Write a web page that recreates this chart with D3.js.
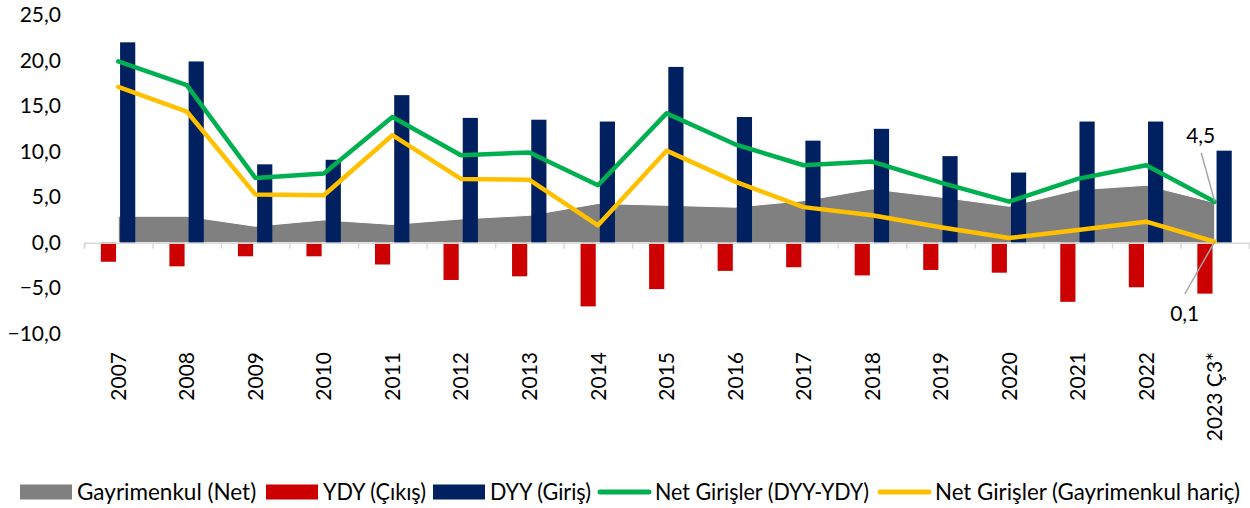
<!DOCTYPE html>
<html>
<head>
<meta charset="utf-8">
<script src="https://cdn.jsdelivr.net/npm/d3@7"></script>
<style>
  body { margin: 0; background: #fff; }
  svg { display: block; font-family: Lato, "Open Sans", sans-serif; }
</style>
</head>
<body>
<svg width="1250" height="508"></svg>
<script>
  const categories = ['2007', '2008', '2009', '2010', '2011', '2012', '2013', '2014', '2015',
    '2016', '2017', '2018', '2019', '2020', '2021', '2022', '2023 Ç3*'];
  const dyyGiris = [22.0, 19.9, 8.6, 9.1, 16.2, 13.7, 13.5, 13.3, 19.3, 13.8, 11.2, 12.5, 9.5, 7.7, 13.3, 13.3, 10.1];
  const ydyCikis = [-2.1, -2.6, -1.5, -1.5, -2.4, -4.1, -3.7, -7.0, -5.1, -3.1, -2.7, -3.6, -3.0, -3.3, -6.5, -4.9, -5.6];
  const gayrimenkulNet = [2.9, 2.9, 1.8, 2.5, 2.0, 2.6, 3.0, 4.3, 4.1, 3.9, 4.6, 5.9, 5.0, 4.0, 5.8, 6.3, 4.4];
  const netGirisler = [19.9, 17.3, 7.1, 7.6, 13.8, 9.6, 9.9, 6.3, 14.2, 10.8, 8.5, 8.9, 6.6, 4.5, 7.0, 8.5, 4.5];
  const netHaric = [17.1, 14.4, 5.3, 5.2, 11.8, 7.0, 6.9, 1.9, 10.1, 6.7, 3.9, 3.0, 1.7, 0.5, 1.4, 2.3, 0.1];
  const yTicks = [-10, -5, 0, 5, 10, 15, 20, 25];

(function (d3) {
  'use strict';

  const svg = d3.select('svg');
  const margin = { left: 84, right: 1249, top: 15, bottom: 333.7 };

  const locale = d3.formatLocale({ decimal: ',', thousands: '.', grouping: [3], currency: ['', ''] });
  const fmt = locale.format('.1f');

  const x = d3.scaleBand().domain(categories).range([margin.left, margin.right]).padding(0);
  const xEdge = d3.scaleLinear().domain([0, categories.length]).range([margin.left, margin.right]);
  const y = d3.scaleLinear().domain([-10, 25]).range([margin.bottom, margin.top]);
  const inner = d3.scaleBand().domain(['ydy', 'dyy']).range([-17.4, 17]).paddingInner(0.21);
  const cx = c => x(c) + x.bandwidth() / 2;

  // gri alan
  const area = d3.area()
    .x((d, i) => cx(categories[i]))
    .y0(y(0))
    .y1(d => y(d));
  svg.append('path')
    .datum(gayrimenkulNet)
    .attr('d', area)
    .attr('fill', '#808080')
    .attr('stroke', '#fff')
    .attr('stroke-width', 1);

  // bars
  const barG = svg.append('g');
  barG.selectAll('.ydy').data(ydyCikis).enter().append('rect')
    .attr('class', 'ydy')
    .attr('x', (d, i) => cx(categories[i]) + inner('ydy'))
    .attr('width', inner.bandwidth())
    .attr('y', d => y(Math.max(0, d)))
    .attr('height', d => Math.abs(y(d) - y(0)))
    .attr('fill', '#cc0000');
  barG.selectAll('.dyy').data(dyyGiris).enter().append('rect')
    .attr('class', 'dyy')
    .attr('x', (d, i) => cx(categories[i]) + inner('dyy'))
    .attr('width', inner.bandwidth())
    .attr('y', d => y(Math.max(0, d)))
    .attr('height', d => Math.abs(y(d) - y(0)))
    .attr('fill', '#002060');

  // x axis (ticks at category edges)
  const xAxisG = svg.append('g')
    .attr('transform', `translate(0,${y(0)})`)
    .call(d3.axisBottom(xEdge).tickValues(d3.range(categories.length + 1)).tickSize(6).tickFormat(''));
  xAxisG.select('.domain').attr('stroke', '#d9d9d9').attr('stroke-width', 1.5);
  xAxisG.selectAll('.tick line').attr('stroke', '#d9d9d9').attr('stroke-width', 1.5);

  // category labels
  svg.append('g').selectAll('text').data(categories).enter().append('text')
    .attr('transform', d => `translate(${cx(d)},352) rotate(-90)`)
    .attr('text-anchor', 'end')
    .attr('dy', '0.36em')
    .attr('font-size', 21)
    .attr('fill', '#000')
    .text(d => d);

  // y axis
  const yAxisG = svg.append('g')
    .attr('transform', `translate(${margin.left},0)`)
    .call(d3.axisLeft(y).tickValues(yTicks).tickSize(0).tickPadding(23).tickFormat(fmt));
  yAxisG.select('.domain').remove();
  yAxisG.selectAll('text').attr('font-size', 21).attr('font-family', 'Lato, sans-serif').attr('fill', '#000');

  // lines
  const line = d3.line().x((d, i) => cx(categories[i])).y(d => y(d));
  svg.append('path').datum(netGirisler).attr('d', line)
    .attr('fill', 'none').attr('stroke', '#00b050').attr('stroke-width', 4.5)
    .attr('stroke-linejoin', 'round').attr('stroke-linecap', 'round');
  svg.append('path').datum(netHaric).attr('d', line)
    .attr('fill', 'none').attr('stroke', '#ffc000').attr('stroke-width', 4.5)
    .attr('stroke-linejoin', 'round').attr('stroke-linecap', 'round');

  // data labels for last point
  const last = categories[categories.length - 1];
  const lx = cx(last);
  const labels = [
    { v: netGirisler[netGirisler.length - 1], tx: lx - 14, ty: 142.7, lineFrom: [lx - 13.5, 152.7] },
    { v: netHaric[netHaric.length - 1], tx: lx - 30, ty: 321, lineFrom: [lx - 30, 294] }
  ];
  labels.forEach(l => {
    svg.append('line')
      .attr('x1', l.lineFrom[0]).attr('y1', l.lineFrom[1])
      .attr('x2', lx).attr('y2', y(l.v))
      .attr('stroke', '#a6a6a6').attr('stroke-width', 1.5);
    svg.append('text')
      .attr('x', l.tx).attr('y', l.ty)
      .attr('text-anchor', 'middle')
      .attr('font-size', 21)
      .text(fmt(l.v));
  });

  // legend (slot positions and text widths)
  const legendItems = [
    { name: 'Gayrimenkul (Net)', color: '#808080', type: 'rect', at: 20, w: 180 },
    { name: 'YDY (Çıkış)', color: '#cc0000', type: 'rect', at: 266, w: 103 },
    { name: 'DYY (Giriş)', color: '#002060', type: 'rect', at: 433, w: 101 },
    { name: 'Net Girişler (DYY-YDY)', color: '#00b050', type: 'line', at: 598, w: 214 },
    { name: 'Net Girişler (Gayrimenkul hariç)', color: '#ffc000', type: 'line', at: 878, w: 305 }
  ];
  const legend = svg.append('g');
  const legY = 492;
  legendItems.forEach(it => {
    if (it.type === 'rect') {
      legend.append('rect')
        .attr('x', it.at).attr('y', legY - 7.5).attr('width', 52).attr('height', 15)
        .attr('fill', it.color);
    } else {
      legend.append('line')
        .attr('x1', it.at + 2).attr('x2', it.at + 51).attr('y1', legY).attr('y2', legY)
        .attr('stroke', it.color).attr('stroke-width', 5).attr('stroke-linecap', 'round');
    }
    const t = legend.append('text')
      .attr('x', it.at + 57).attr('y', legY)
      .attr('dy', '0.35em')
      .attr('font-size', 22.5)
      .text(it.name);
    if (t.node().getComputedTextLength() > it.w) {
      t.attr('textLength', it.w).attr('lengthAdjust', 'spacingAndGlyphs');
    }
  });
}(d3));
</script>
</body>
</html>
